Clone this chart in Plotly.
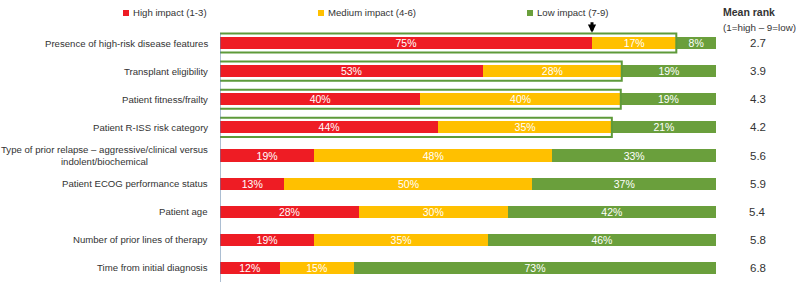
import plotly.graph_objects as go

categories = [
    "Presence of high-risk disease features",
    "Transplant eligibility",
    "Patient fitness/frailty",
    "Patient R-ISS risk category",
    "Type of prior relapse – aggressive/clinical versus<br>indolent/biochemical",
    "Patient ECOG performance status",
    "Patient age",
    "Number of prior lines of therapy",
    "Time from initial diagnosis",
]
high = [75, 53, 40.4, 44, 19, 13, 28, 19, 12]
medium = [17, 28, 40.4, 35, 48, 50, 30, 35, 15]
low = [8, 19, 19.2, 21, 33, 37, 42, 46, 73]
mean_rank = ["2.7", "3.9", "4.3", "4.2", "5.6", "5.9", "5.4", "5.8", "6.8"]
boxed_rows = [0, 1, 2, 3]
series_names = ["High impact (1-3)", "Medium impact (4-6)", "Low impact (7-9)"]
colors = ["#EE1C24", "#FFC000", "#6A9F3C"]

FONT = "Liberation Sans, Arial, sans-serif"
TXT = "#333333"

ypos = list(range(len(categories)))
fig = go.Figure()
for name, vals, col in zip(series_names, [high, medium, low], colors):
    fig.add_trace(go.Bar(
        y=ypos, x=vals, orientation="h", name=name,
        marker=dict(color=col, line=dict(width=0)),
        width=0.43,
        text=[f"{round(v)}%" for v in vals],
        textposition="inside", insidetextanchor="middle",
        constraintext="none",
        textfont=dict(color="white", size=10.5, family=FONT),
        hoverinfo="skip", showlegend=False,
    ))

layout_shapes = []
annotations = []

# Green boxes around high+medium
for r in boxed_rows:
    layout_shapes.append(dict(
        type="rect", xref="x", yref="y",
        x0=-0.8, x1=high[r] + medium[r],
        y0=r - 0.34, y1=r + 0.34,
        line=dict(color="#5E9A3A", width=2), fillcolor="rgba(0,0,0,0)",
        layer="above",
    ))

# Arrow above row 1 at end of red
annotations.append(dict(
    x=high[0], y=-0.37, xref="x", yref="y", text="",
    showarrow=True, arrowhead=2, arrowsize=0.55, arrowwidth=3,
    arrowcolor="black", ax=0, ay=-12,
))

# Category labels
for i, c in enumerate(categories):
    annotations.append(dict(
        x=0, y=i, xref="paper", yref="y", text=c,
        xanchor="right", align="center", xshift=-10,
        showarrow=False, font=dict(size=9.6, color=TXT, family=FONT),
    ))

# Mean rank values
for i, m in enumerate(mean_rank):
    annotations.append(dict(
        x=1.0845, y=i, xref="paper", yref="y", text=m,
        xanchor="center", showarrow=False,
        font=dict(size=11.5, color=TXT, family=FONT),
    ))

W, H = 800, 285
l, r, t, b = 220, 84, 29, 3
pw, ph = W - l - r, H - t - b
def px(xp):
    return (xp - l) / pw
def py(yp):
    return 1 - (yp - t) / ph

# Mean rank header
annotations.append(dict(
    x=px(721), y=py(12), xref="paper", yref="paper", text="<b>Mean rank</b>",
    xanchor="left", yanchor="middle",
    showarrow=False, font=dict(size=10.5, color=TXT, family=FONT),
))
annotations.append(dict(
    x=px(721), y=py(27), xref="paper", yref="paper", text="(1=high – 9=low)",
    xanchor="left", yanchor="middle",
    showarrow=False, font=dict(size=9.8, color=TXT, family=FONT),
))

# Legend (manual)
legend_x = [123, 318, 527]
for name, col, lx in zip(series_names, colors, legend_x):
    layout_shapes.append(dict(
        type="rect", xref="paper", yref="paper",
        x0=px(lx), x1=px(lx + 6), y0=py(10), y1=py(16),
        fillcolor=col, line=dict(width=0),
    ))
    annotations.append(dict(
        x=px(lx + 7.5), y=py(13), xref="paper", yref="paper", text=name,
        xanchor="left", yanchor="middle", showarrow=False,
        font=dict(size=9.6, color=TXT, family=FONT),
    ))

# axis line
layout_shapes.append(dict(
    type="line", xref="x", yref="paper", x0=0, x1=0, y0=0, y1=py(33),
    line=dict(color="#5B7FA6", width=1), layer="above",
))

fig.update_layout(
    width=W, height=H,
    margin=dict(l=l, r=r, t=t, b=b),
    paper_bgcolor="white", plot_bgcolor="white",
    barmode="stack", showlegend=False,
    xaxis=dict(range=[0, 100], visible=False, fixedrange=True),
    yaxis=dict(range=[8.5, -0.5], showticklabels=False, showgrid=False,
               zeroline=False, showline=False, fixedrange=True),
    shapes=layout_shapes, annotations=annotations,
)
fig.write_html("out.html", config={"displayModeBar": False},
               post_script="document.body.style.margin='0';document.body.style.overflow='hidden';")
